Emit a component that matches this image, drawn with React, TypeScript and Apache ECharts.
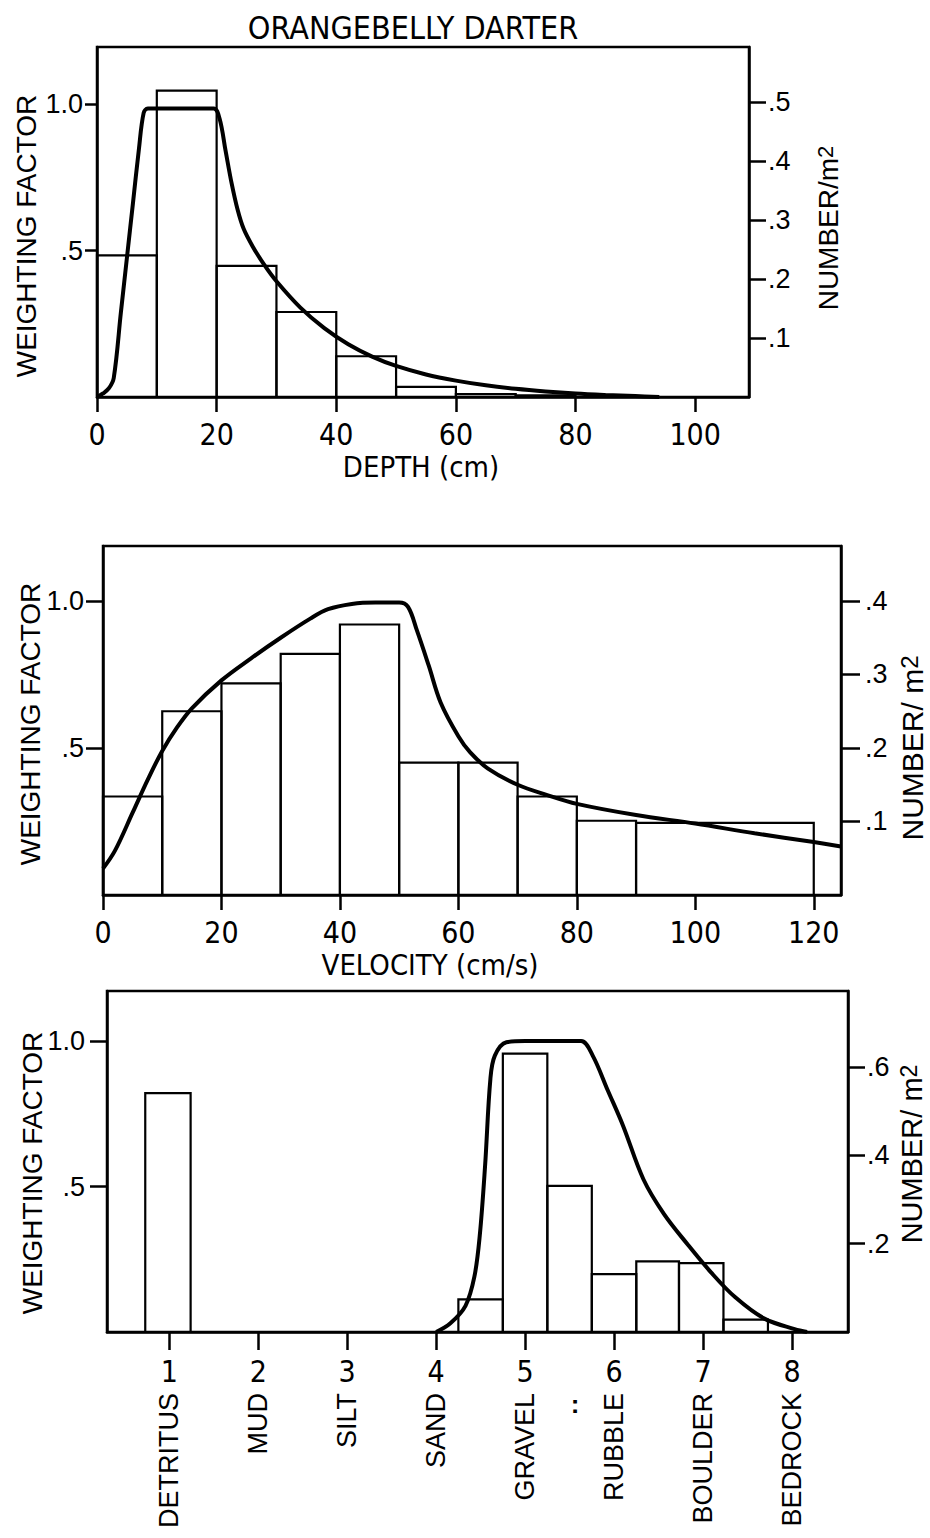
import React, { useEffect, useRef } from 'react';
import * as echarts from 'echarts';

// ---------- data ----------
const TITLE = 'ORANGEBELLY DARTER';

// Depth panel
const depthBinStart = [0, 10, 20, 30, 40, 50, 60, 70];
const depthBinEnd = [10, 20, 30, 40, 50, 60, 70, 80];
const depthNumber = [0.24, 0.519, 0.222, 0.144, 0.069, 0.017, 0.005, 0.003];
const depthCurveX = [0, 1, 2, 2.8, 4, 5, 6, 7, 7.8, 8.5, 14, 19.5, 20.5, 21.5, 22.5, 23.5, 24.5, 26, 28, 30, 34, 38, 42, 46, 50, 55, 60, 65, 70, 75, 80, 85, 90, 94];
const depthCurveW = [0, 0.012, 0.03, 0.065, 0.29, 0.475, 0.66, 0.845, 0.97, 0.985, 0.985, 0.985, 0.95, 0.84, 0.73, 0.64, 0.575, 0.515, 0.45, 0.395, 0.305, 0.235, 0.18, 0.138, 0.106, 0.077, 0.056, 0.04, 0.028, 0.019, 0.012, 0.007, 0.003, 0];
const depthTicks = [0, 20, 40, 60, 80, 100];
const depthRightTicks = [0.1, 0.2, 0.3, 0.4, 0.5];

// Velocity panel
const velBinStart = [0, 10, 20, 30, 40, 50, 60, 70, 80, 90];
const velBinEnd = [10, 20, 30, 40, 50, 60, 70, 80, 90, 120];
const velNumber = [0.134, 0.25, 0.288, 0.328, 0.368, 0.18, 0.18, 0.134, 0.101, 0.098];
const velCurveX = [0, 2, 5, 7.5, 10, 12.5, 15, 20, 25, 30, 35, 38, 42, 46, 50, 51.5, 53, 55, 57, 60, 62, 65, 70, 75, 80, 90, 100, 110, 120, 124.6];
const velCurveW = [0.09, 0.15, 0.28, 0.39, 0.49, 0.57, 0.635, 0.73, 0.805, 0.875, 0.94, 0.972, 0.99, 0.995, 0.995, 0.98, 0.9, 0.78, 0.655, 0.54, 0.485, 0.43, 0.375, 0.34, 0.31, 0.272, 0.243, 0.21, 0.18, 0.165];
const velTicks = [0, 20, 40, 60, 80, 100, 120];
const velRightTicks = [0.1, 0.2, 0.3, 0.4];

// Substrate panel
const substrateCodes = [1, 2, 3, 4, 5, 6, 7, 8];
const substrateNames = ['DETRITUS', 'MUD', 'SILT', 'SAND', 'GRAVEL', 'RUBBLE', 'BOULDER', 'BEDROCK'];
const subBinStart = [0.73, 4.25, 4.75, 5.25, 5.75, 6.25, 6.73, 7.23];
const subBinEnd = [1.24, 4.75, 5.25, 5.75, 6.25, 6.73, 7.23, 7.73];
const subNumber = [0.541, 0.074, 0.63, 0.331, 0.131, 0.16, 0.156, 0.028];
const subCurveX = [4.0, 4.16, 4.33, 4.43, 4.49, 4.55, 4.61, 4.66, 4.79, 5.0, 5.4, 5.63, 5.76, 5.93, 6.1, 6.33, 6.56, 6.83, 7.09, 7.36, 7.69, 8.03, 8.17];
const subCurveW = [0, 0.03, 0.09, 0.19, 0.33, 0.57, 0.87, 0.95, 0.996, 1.0, 1.0, 1.0, 0.95, 0.83, 0.71, 0.525, 0.406, 0.3, 0.205, 0.12, 0.046, 0.01, 0];
const subRightTicks = [0.2, 0.4, 0.6];

const leftTicks = [0.5, 1.0];

// ---------- helpers ----------
const FONT = "'Liberation Sans', Arial, Helvetica, sans-serif";
const NARROW = "'Liberation Sans Narrow', 'Arial Narrow', 'DejaVu Sans Condensed', 'Liberation Sans', sans-serif";
const BLACK = '#000';

const zip2 = (a: number[], b: number[]) => a.map((v, i) => [v, b[i]]);
const zip3 = (a: number[], b: number[], c: number[]) => a.map((v, i) => [v, b[i], c[i]]);
const fmtDec = (v: number) => (v >= 1 ? v.toFixed(1) : '.' + Math.round(v * 10));

function xAxisDef(grid: number, min: number, max: number, ticks: number[], tickLen: number, margin: number, fontSize: number) {
  return {
    type: 'value', gridIndex: grid, min, max, position: 'bottom',
    axisLine: { show: true, onZero: false, lineStyle: { color: BLACK, width: 2.5 } },
    axisTick: { show: true, customValues: ticks, length: tickLen, lineStyle: { color: BLACK, width: 2.5 } },
    axisLabel: { show: true, customValues: ticks, margin, fontSize, color: BLACK, fontFamily: NARROW, formatter: (v: number) => String(v) },
    splitLine: { show: false },
  };
}

function yAxisDef(grid: number, pos: 'left' | 'right', max: number, ticks: number[], tickLen: number, margin: number, fontSize: number) {
  return {
    type: 'value', gridIndex: grid, min: 0, max, position: pos,
    axisLine: { show: true, onZero: false, lineStyle: { color: BLACK, width: 2.5 } },
    axisTick: { show: true, customValues: ticks, length: tickLen, lineStyle: { color: BLACK, width: 2.5 } },
    axisLabel: { show: true, customValues: ticks, margin, fontSize, color: BLACK, fontFamily: FONT, formatter: fmtDec },
    splitLine: { show: false },
  };
}

function binSeries(xIdx: number, yIdx: number, data: number[][]) {
  return {
    type: 'custom', xAxisIndex: xIdx, yAxisIndex: yIdx, z: 2,
    data,
    encode: { x: [0, 1], y: 2 },
    renderItem: (_p: any, api: any) => {
      const p0 = api.coord([api.value(0), 0]);
      const p1 = api.coord([api.value(1), api.value(2)]);
      return {
        type: 'rect',
        shape: { x: p0[0], y: p1[1], width: p1[0] - p0[0], height: p0[1] - p1[1] },
        style: { fill: 'none', stroke: BLACK, lineWidth: 2.2 },
      };
    },
  };
}

function curveSeries(xIdx: number, yIdx: number, data: number[][]) {
  return {
    type: 'line', xAxisIndex: xIdx, yAxisIndex: yIdx, z: 5,
    data, showSymbol: false, symbol: 'none', smooth: 0.35,
    lineStyle: { color: BLACK, width: 4 },
  };
}

function vText(text: string, x: number, y: number, fontSize: number) {
  return {
    type: 'text', x, y, rotation: Math.PI / 2,
    style: { text, font: `${fontSize}px ${FONT}`, fill: BLACK, align: 'center', verticalAlign: 'middle' },
  };
}

function vRich(main: string, x: number, y: number, fontSize: number) {
  return {
    type: 'text', x, y, rotation: Math.PI / 2,
    style: {
      text: `{n|${main}}{s|2}`,
      rich: {
        n: { fontSize, fontFamily: FONT, fill: BLACK, color: BLACK, verticalAlign: 'bottom' },
        s: { fontSize: Math.round(fontSize * 0.8), fontFamily: FONT, fill: BLACK, color: BLACK, verticalAlign: 'top' },
      },
      fill: BLACK, align: 'center', verticalAlign: 'middle',
    },
  };
}

function hText(text: string, x: number, y: number, fontSize: number, family = FONT, weight = 'normal') {
  return {
    type: 'text', x, y,
    style: { text, font: `${weight} ${fontSize}px ${family}`, fill: BLACK, align: 'center', verticalAlign: 'middle' },
  };
}

export default function App() {
  const ref = useRef<HTMLDivElement>(null);

  useEffect(() => {
    document.body.style.margin = '0';
    if (!ref.current) return;
    const chart = echarts.init(ref.current, null, { renderer: 'svg' });

    const option: any = {
      animation: false,
      backgroundColor: '#fff',
      textStyle: { fontFamily: FONT, color: BLACK },
      grid: [
        { left: 97, top: 47, width: 652, height: 350, show: true, borderColor: BLACK, borderWidth: 2.5, containLabel: false },
        { left: 103, top: 546, width: 738, height: 349, show: true, borderColor: BLACK, borderWidth: 2.5, containLabel: false },
        { left: 107, top: 991, width: 741, height: 341, show: true, borderColor: BLACK, borderWidth: 2.5, containLabel: false },
      ],
      xAxis: [
        xAxisDef(0, 0, 109, depthTicks, 15, 22, 30),
        xAxisDef(1, 0, 124.6, velTicks, 15, 22, 30),
        xAxisDef(2, 0.3, 8.63, substrateCodes, 18, 24, 30),
        {
          type: 'value', gridIndex: 2, min: 0.3, max: 8.63, position: 'bottom',
          axisLine: { show: false }, axisTick: { show: false }, splitLine: { show: false },
          axisLabel: {
            show: true, customValues: substrateCodes, rotate: 90, margin: 61, fontSize: 27, color: BLACK, fontFamily: FONT,
            formatter: (v: number) => substrateNames[substrateCodes.indexOf(Math.round(v))] || '',
          },
        },
      ],
      yAxis: [
        yAxisDef(0, 'left', 1.195, leftTicks, 12, 14, 27),
        yAxisDef(0, 'right', 0.593, depthRightTicks, 17, 19, 27),
        yAxisDef(1, 'left', 1.187, leftTicks, 17, 19, 27),
        yAxisDef(1, 'right', 0.4748, velRightTicks, 19, 24, 27),
        yAxisDef(2, 'left', 1.172, leftTicks, 17, 22, 27),
        yAxisDef(2, 'right', 0.772, subRightTicks, 17, 19, 27),
      ],
      series: [
        binSeries(0, 1, zip3(depthBinStart, depthBinEnd, depthNumber)),
        curveSeries(0, 0, zip2(depthCurveX, depthCurveW)),
        binSeries(1, 3, zip3(velBinStart, velBinEnd, velNumber)),
        curveSeries(1, 2, zip2(velCurveX, velCurveW)),
        binSeries(2, 5, zip3(subBinStart, subBinEnd, subNumber)),
        curveSeries(2, 4, zip2(subCurveX, subCurveW)),
      ],
      graphic: [
        hText(TITLE, 413, 28, 32, NARROW),
        vText('WEIGHTING FACTOR', 26, 236, 28),
        vRich('NUMBER/m', 828, 228, 28),
        hText('DEPTH (cm)', 421, 467, 29, NARROW),
        vText('WEIGHTING FACTOR', 30, 724, 28),
        vRich('NUMBER/ m', 912, 748, 30),
        hText('VELOCITY (cm/s)', 430, 965, 29, NARROW),
        vText('WEIGHTING FACTOR', 32, 1173, 28),
        vRich('NUMBER/ m', 912, 1154, 29),
        hText(':', 575, 1404, 26, FONT, 'bold'),
      ],
    };

    chart.setOption(option);
    return () => chart.dispose();
  }, []);

  return <div ref={ref} style={{ width: 930, height: 1538 }} />;
}
